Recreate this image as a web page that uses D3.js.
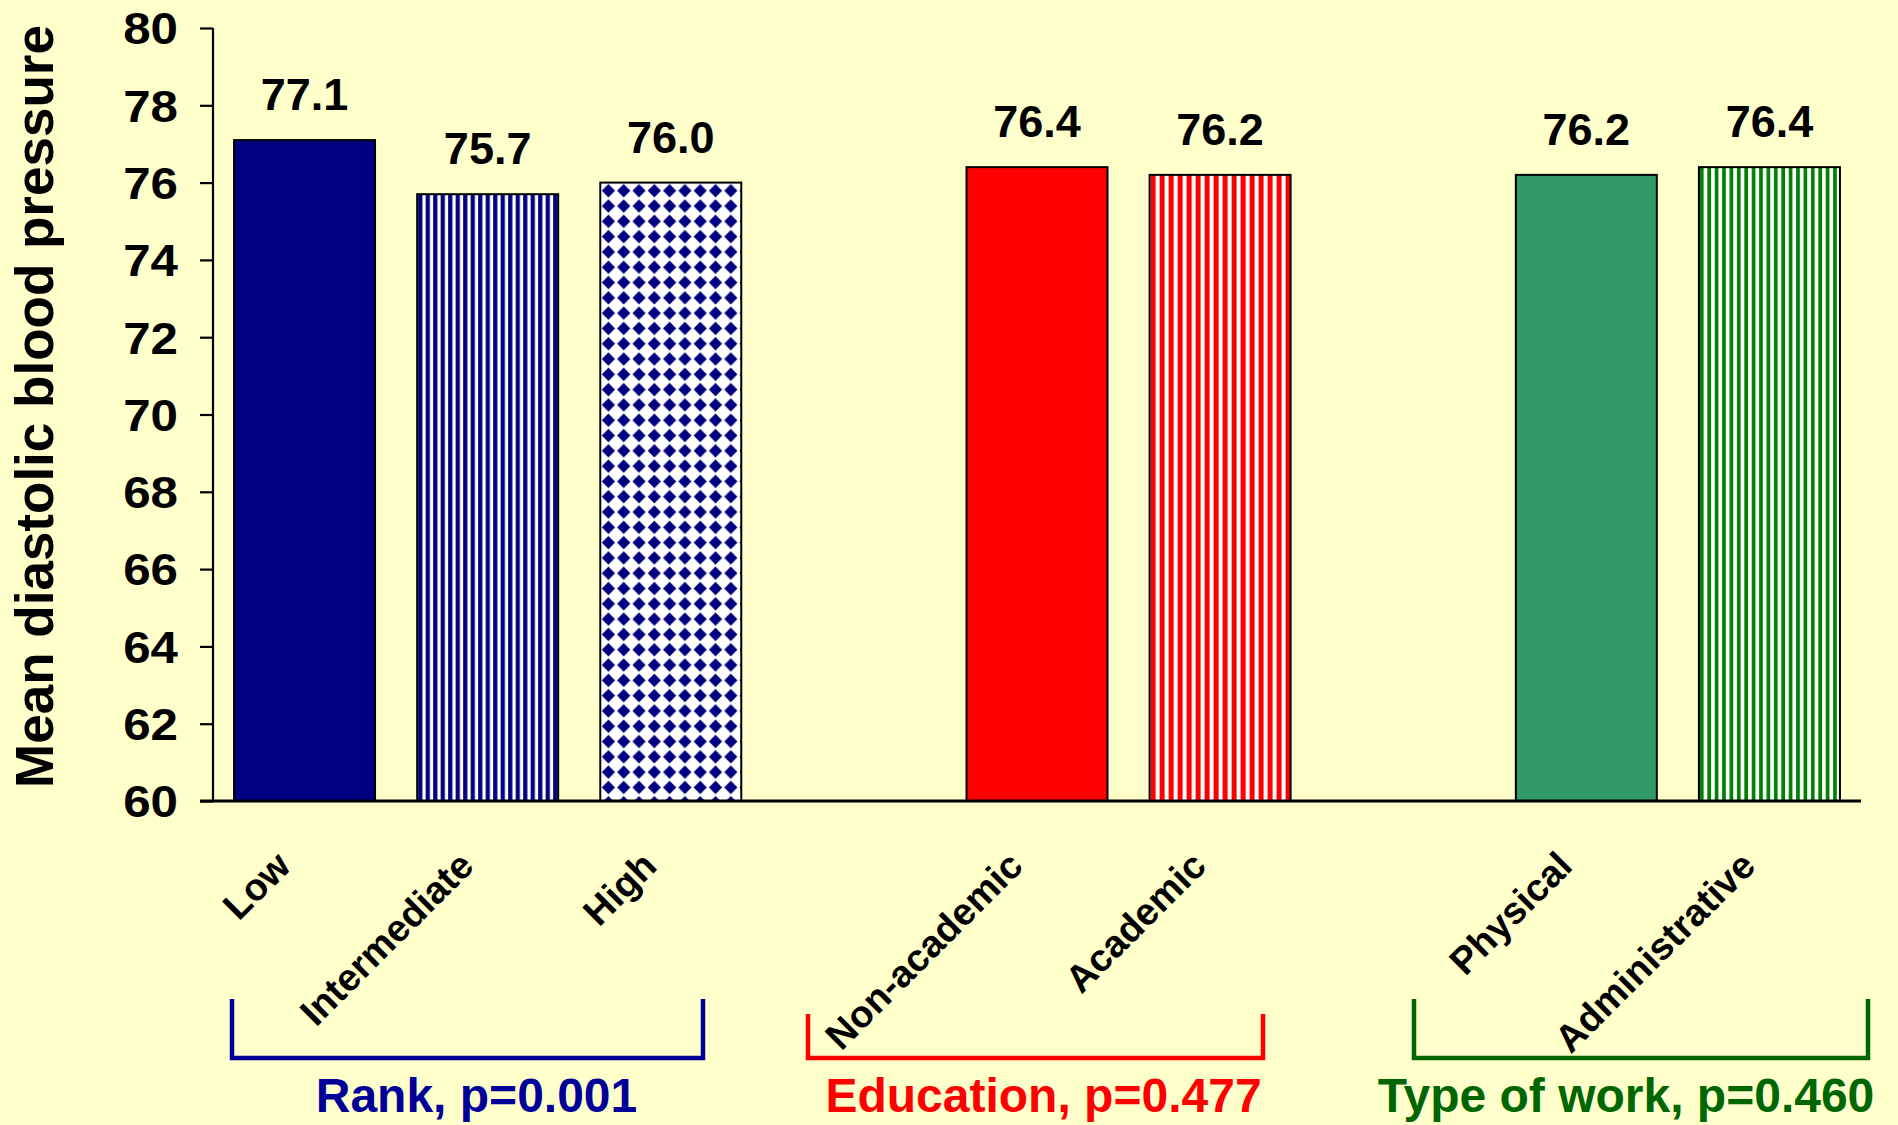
<!DOCTYPE html>
<html>
<head>
<meta charset="utf-8">
<script src="https://cdn.jsdelivr.net/npm/d3@7"></script>
<style>
  html, body { margin: 0; padding: 0; background: #FFFFCC; }
  svg { display: block; }
  text { font-family: "Liberation Sans", Arial, sans-serif; font-weight: bold; }
</style>
</head>
<body>
<svg id="chart" width="1898" height="1125"></svg>
<script>
// ---- data ----
const groups = ["Rank, p=0.001", "Education, p=0.477", "Type of work, p=0.460"];
const groupSizes = [3, 2, 2];
const categories = ["Low", "Intermediate", "High", "Non-academic", "Academic", "Physical", "Administrative"];
const groupOf = [0, 0, 0, 1, 1, 2, 2];
const values = [77.1, 75.7, 76.0, 76.4, 76.2, 76.2, 76.4];
const yTicks = [60, 62, 64, 66, 68, 70, 72, 74, 76, 78, 80];
const yTitle = "Mean diastolic blood pressure";

// ---- styles ----
const groupColors = ["#000099", "#FF0000", "#006600"];
const barStyles = [
  { type: "solid", color: "#000080" },
  { type: "stripe", color: "#000080", period: 7.5, w: 4.2 },
  { type: "diamond", color: "#000080", period: 15.3, r: 6.6 },
  { type: "solid", color: "#FF0000" },
  { type: "stripe", color: "#FF0000", period: 9, w: 5 },
  { type: "solid", color: "#339966" },
  { type: "stripe", color: "#008000", period: 7.4, w: 3.7 }
];

// ---- layout ----
const W = 1898, H = 1125;
const plot = { left: 213, right: 1861, top: 28, bottom: 801 };
const brackets = [
  { x0: 232, x1: 703, top: 999, labelDx: 9 },
  { x0: 808, x1: 1263, top: 1014, labelDx: 8 },
  { x0: 1414, x1: 1868, top: 999, labelDx: -15 }
];
const bracketBottom = 1058;
const groupLabelY = 1112;
const tickScaleX = 1.12;

const svg = d3.select("#chart");
svg.append("rect").attr("width", W).attr("height", H).attr("fill", "#FFFFCC");

// each group occupies three slots, right-aligned inside its block
const slotOf = categories.map((c, i) => {
  const g = groupOf[i];
  const j = groupOf.slice(0, i).filter(v => v === g).length;
  return g * 3 + (3 - groupSizes[g]) + j;
});

const x = d3.scaleBand()
  .domain(d3.range(9))
  .range([plot.left, plot.right])
  .paddingInner(0.23)
  .paddingOuter(0.115);

const y = d3.scaleLinear()
  .domain([60, 80])
  .range([plot.bottom, plot.top]);

const bars = categories.map((c, i) => ({
  name: c, value: values[i], slot: slotOf[i], style: barStyles[i], i
}));

// ---- fill patterns ----
const defs = svg.append("defs");
bars.forEach(b => {
  const s = b.style;
  if (s.type === "solid") return;
  const bx = x(b.slot), by = y(b.value);
  const p = defs.append("pattern")
    .attr("id", "pat" + b.i)
    .attr("patternUnits", "userSpaceOnUse")
    .attr("x", bx).attr("y", by)
    .attr("width", s.period).attr("height", s.period);
  p.append("rect").attr("width", s.period).attr("height", s.period).attr("fill", "#FFFFFF");
  if (s.type === "stripe") {
    p.append("rect").attr("x", 1).attr("width", s.w).attr("height", s.period).attr("fill", s.color);
  } else {
    const c = s.period / 2 + 0.5;
    p.append("path")
      .attr("d", `M${c},${c - s.r}L${c + s.r},${c}L${c},${c + s.r}L${c - s.r},${c}Z`)
      .attr("fill", s.color);
  }
});

// ---- bars ----
svg.append("g").selectAll("rect")
  .data(bars)
  .join("rect")
  .attr("x", d => x(d.slot))
  .attr("y", d => y(d.value))
  .attr("width", x.bandwidth())
  .attr("height", d => y(60) - y(d.value))
  .attr("fill", d => d.style.type === "solid" ? d.style.color : `url(#pat${d.i})`)
  .attr("stroke", "#000")
  .attr("stroke-width", 2);

// value labels
svg.append("g").selectAll("text")
  .data(bars)
  .join("text")
  .attr("x", d => x(d.slot) + x.bandwidth() / 2)
  .attr("y", d => y(d.value) - 30)
  .attr("text-anchor", "middle")
  .attr("font-size", 45)
  .attr("fill", "#000")
  .text(d => d3.format(".1f")(d.value));

// ---- y axis ----
const yAxis = svg.append("g")
  .attr("transform", `translate(${plot.left},0)`)
  .call(d3.axisLeft(y).tickValues(yTicks).tickFormat(d3.format("d")).tickSize(13).tickPadding(22));
yAxis.select(".domain").attr("stroke", "#000").attr("stroke-width", 2.2).attr("d", `M0,${plot.top}V${plot.bottom}`);
yAxis.selectAll(".tick line").attr("stroke", "#000").attr("stroke-width", 2.2);
yAxis.selectAll(".tick text")
  .attr("font-size", 44)
  .attr("font-family", "'Liberation Sans', Arial, sans-serif")
  .attr("font-weight", "bold")
  .attr("fill", "#000")
  .attr("x", -35 / tickScaleX)
  .attr("transform", `scale(${tickScaleX},1)`)
  .attr("dy", "0.36em");

// x axis baseline
svg.append("line")
  .attr("x1", plot.left - 13).attr("x2", plot.right)
  .attr("y1", y(60)).attr("y2", y(60))
  .attr("stroke", "#000").attr("stroke-width", 3);

// y title
svg.append("text")
  .attr("transform", `translate(53,${(plot.top + plot.bottom) / 2 - 8}) rotate(-90)`)
  .attr("text-anchor", "middle")
  .attr("font-size", 53)
  .attr("fill", "#000")
  .text(yTitle);

// category labels, rotated
svg.append("g").selectAll("text")
  .data(bars)
  .join("text")
  .attr("transform", d => `translate(${x(d.slot) + x.bandwidth() / 2 - 12},${plot.bottom + 67}) rotate(-45)`)
  .attr("text-anchor", "end")
  .attr("font-size", 38)
  .attr("fill", "#000")
  .text(d => d.name);

// group brackets and labels
const gb = svg.append("g");
brackets.forEach((b, g) => {
  gb.append("path")
    .attr("d", `M${b.x0},${b.top}V${bracketBottom}H${b.x1}V${b.top}`)
    .attr("fill", "none")
    .attr("stroke", groupColors[g])
    .attr("stroke-width", 4.5);
  gb.append("text")
    .attr("x", (b.x0 + b.x1) / 2 + b.labelDx)
    .attr("y", groupLabelY)
    .attr("text-anchor", "middle")
    .attr("font-size", 48)
    .attr("fill", groupColors[g])
    .text(groups[g]);
});
</script>
</body>
</html>
